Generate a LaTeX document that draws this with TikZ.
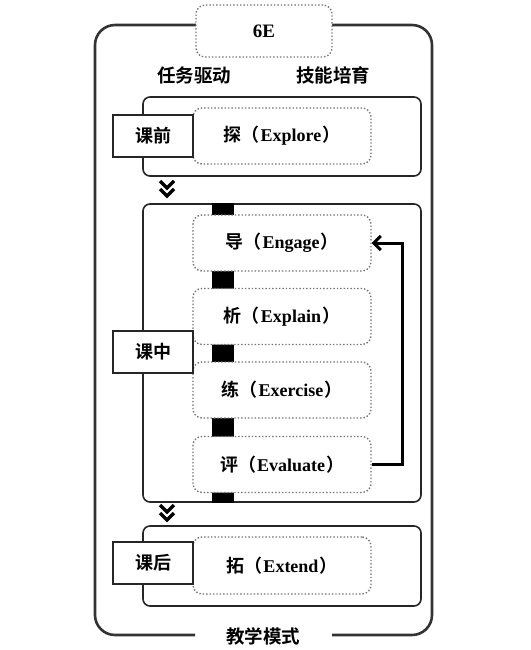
\documentclass[tikz,border=0pt]{standalone}
\usepackage{fontspec}
\setmainfont{Liberation Serif}
\newfontfamily\cjk{Noto Sans CJK SC}[BoldFont={* Bold}]
\usetikzlibrary{arrows.meta}
\newcommand\cj[1]{{\cjk #1}}
\newcommand\lp{\cj{（}\hspace{1pt}}
\newcommand\rp{\hspace{1pt}\cj{）}}
\begin{document}
\begin{tikzpicture}[x=1pt,y=-1pt,
  frame/.style={draw=black!80, line width=2.6pt, rounded corners=20pt},
  secbox/.style={draw=black!85, line width=1.6pt, rounded corners=7pt, fill=white, inner sep=0},
  lab/.style={draw=black!85, line width=1.3pt, fill=white, minimum width=80pt, minimum height=42pt, inner sep=0, font=\cjk\bfseries\fontsize{18}{18}\selectfont},
  dbox/.style={draw=black!55, dotted, line width=1.4pt, rounded corners=9pt, fill=white, minimum width=178pt, minimum height=56pt, inner sep=0, font=\bfseries\fontsize{18}{18}\selectfont},
  head/.style={font=\cjk\bfseries\fontsize{18.5}{18.5}\selectfont},
  chev/.style={draw=black, line width=3.4pt},
  fb/.style={draw=black, line width=3pt, -{Straight Barb[length=7pt,width=14pt,line width=3pt]}},
  bar/.style={draw=black, line width=22pt}]
\useasboundingbox (0,0) rectangle (530,650);
% outer frame
\draw[frame] (195,635) -- (95,635) -- (95,25) -- (432,25) -- (432,635) -- (332,635);
\node[dbox, minimum width=136pt, minimum height=52pt, font=\bfseries\fontsize{19}{19}\selectfont] (top) at (264,31) {6E};
\node[head] (t1) at (194,75) {任务驱动};
\node[head] (t2) at (333,75) {技能培育};
% pre
\node[secbox, minimum width=278pt, minimum height=79pt] (pre) at (282,136.5) {};
\node[dbox] (explore) at (282,136) {\cj{探}\lp Explore\rp};
\node[lab] (lpre) at (153,136) {课前};
% mid
\node[secbox, minimum width=278pt, minimum height=298pt] (mid) at (282,353) {};
\draw[bar] ([xshift=-59pt]mid.north) -- ([xshift=-59pt]mid.south);
\node[dbox] (eng) at (282,243) {\cj{导}\lp Engage\rp};
\node[dbox] (expl) at (282,316.5) {\cj{析}\lp Explain\rp};
\node[dbox] (exer) at (282,390) {\cj{练}\lp Exercise\rp};
\node[dbox] (eval) at (282,464.5) {\cj{评}\lp Evaluate\rp};
\node[lab] (lmid) at (153,352) {课中};
\draw[fb] (eval.east) -- ++(31,0) |- (eng.east);
% post
\node[secbox, minimum width=278pt, minimum height=80pt] (post) at (282,566) {};
\node[dbox, minimum height=57pt] (ext) at (282,565.5) {\cj{拓}\lp Extend\rp};
\node[lab] (lpost) at (153,563) {课后};
\node[head] (bottom) at (263,636) {教学模式};
% chevrons
\coordinate (c1) at (167,190);
\coordinate (c2) at (167,514);
\foreach \c in {c1,c2}{
  \draw[chev] ([shift={(-7,-9)}]\c) -- ([shift={(0,-2)}]\c) -- ([shift={(7,-9)}]\c);
  \draw[chev] ([shift={(-7,-1)}]\c) -- ([shift={(0,6)}]\c) -- ([shift={(7,-1)}]\c);
}
\end{tikzpicture}
\end{document}
